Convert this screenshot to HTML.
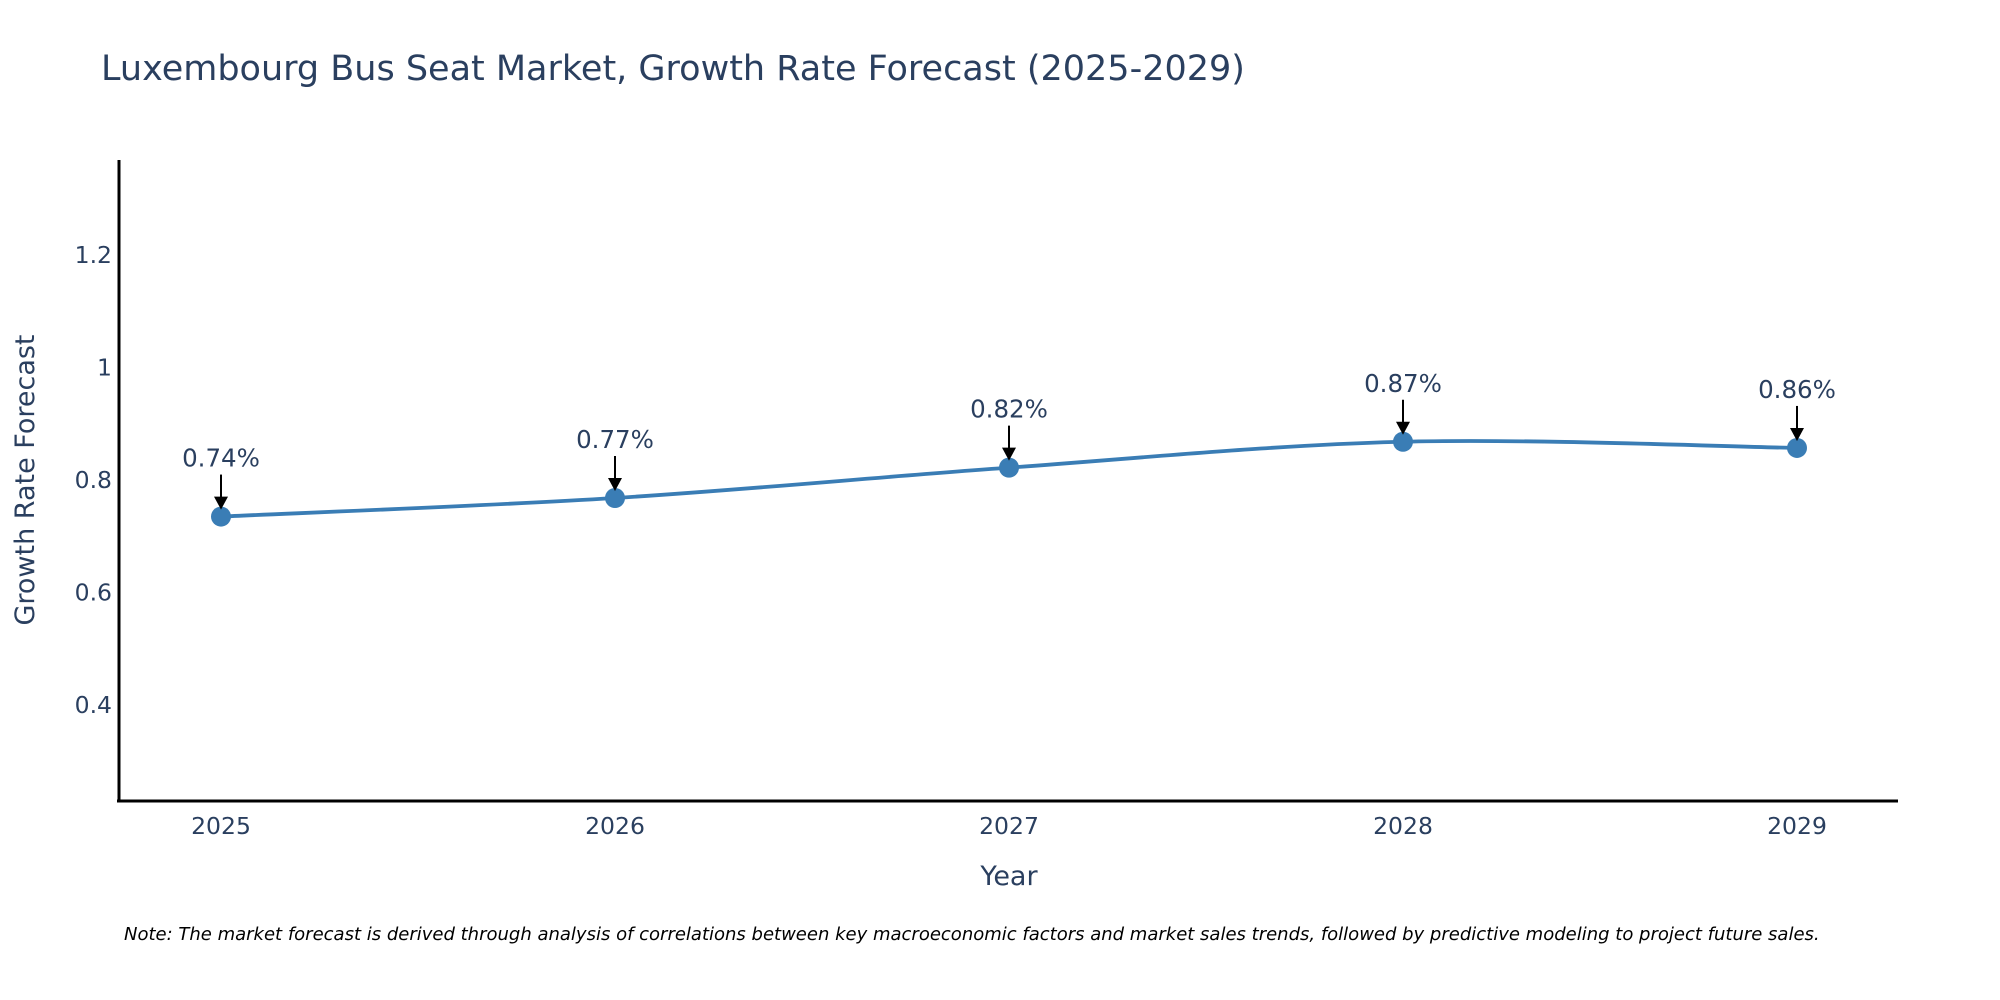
<!DOCTYPE html>
<html><head><meta charset="utf-8"><style>
html,body{margin:0;padding:0;background:#fff;}
svg{display:block;font-family:"DejaVu Sans","Liberation Sans",sans-serif;}
</style></head><body>
<svg id="chart" width="2000" height="1000" viewBox="0 0 2000 1000" xmlns="http://www.w3.org/2000/svg">
<text x="101" y="80" font-size="35" fill="#2a3f5f">Luxembourg Bus Seat Market, Growth Rate Forecast (2025-2029)</text>
<g id="yticks"></g>
<g id="xticks"></g>
<line x1="119" y1="160" x2="119" y2="802" stroke="#000" stroke-width="3"/>
<line x1="117" y1="801" x2="1898" y2="801" stroke="#000" stroke-width="3"/>
<text transform="translate(34,480) rotate(-90)" text-anchor="middle" font-size="27" fill="#2a3f5f">Growth Rate Forecast</text>
<text x="1009" y="885" text-anchor="middle" font-size="27" fill="#2a3f5f">Year</text>
<g id="series"></g>
<g id="annots"></g>
<text x="124" y="940" font-size="18" font-style="italic" fill="#000">Note: The market forecast is derived through analysis of correlations between key macroeconomic factors and market sales trends, followed by predictive modeling to project future sales.</text>
</svg>
<script>
const years = [2025, 2026, 2027, 2028, 2029];
const growthValues = [0.735, 0.768, 0.822, 0.868, 0.857];
const valueLabels = ["0.74%", "0.77%", "0.82%", "0.87%", "0.86%"];
const yTickValues = [0.4, 0.6, 0.8, 1, 1.2];

const NS = "http://www.w3.org/2000/svg";
function xScale(yr){ return 221 + (yr - 2025) * (1797 - 221) / 4; }
function yScale(v){ return 705 - (v - 0.4) * 562.5; }
function mk(tag, attrs){ const e = document.createElementNS(NS, tag); for (const k in attrs) e.setAttribute(k, attrs[k]); return e; }

const yt = document.getElementById('yticks');
yTickValues.forEach(v => {
  const t = mk('text', {x: 112, y: yScale(v) + 8, 'text-anchor': 'end', 'font-size': 23.5, fill: '#2a3f5f'});
  
  
  t.textContent = String(v);
  yt.appendChild(t);
});
const xt = document.getElementById('xticks');
years.forEach(yr => {
  const t = mk('text', {x: xScale(yr), y: 834, 'text-anchor': 'middle', 'font-size': 23.5, fill: '#2a3f5f'});
  
  
  t.textContent = String(yr);
  xt.appendChild(t);
});

const pts = years.map((yr, i) => [xScale(yr), yScale(growthValues[i])]);
let d = 'M' + pts[0][0] + ',' + pts[0][1];
for (let i = 0; i < pts.length - 1; i++) {
  const p0 = pts[i - 1] || pts[i], p1 = pts[i], p2 = pts[i + 1], p3 = pts[i + 2] || pts[i + 1];
  const t = 1 / 6;
  const c1 = [p1[0] + (p2[0] - p0[0]) * t, p1[1] + (p2[1] - p0[1]) * t];
  const c2 = [p2[0] - (p3[0] - p1[0]) * t, p2[1] - (p3[1] - p1[1]) * t];
  d += ' C' + c1 + ' ' + c2 + ' ' + p2;
}
const s = document.getElementById('series');
const line = mk('path', {d: d, fill: 'none', stroke: '#3a7db5', 'stroke-width': 3.8});


s.appendChild(line);
pts.forEach(p => {
  const c = mk('circle', {cx: p[0], cy: p[1], r: 10, fill: '#3a7db5'});
  
  
  s.appendChild(c);
});

const an = document.getElementById('annots');
pts.forEach((p, i) => {
  const tipY = p[1] - 7;
  const l = mk('line', {x1: p[0], y1: tipY - 35, x2: p[0], y2: tipY - 10, stroke: '#000', 'stroke-width': 2});
  
  
  an.appendChild(l);
  const h = mk('path', {d: 'M' + (p[0] - 7) + ',' + (tipY - 13) + ' L' + (p[0] + 7) + ',' + (tipY - 13) + ' L' + p[0] + ',' + tipY + ' Z', fill: '#000'});
  
  
  an.appendChild(h);
  const t = mk('text', {x: p[0], y: tipY - 43, 'text-anchor': 'middle', 'font-size': 24.5, fill: '#2a3f5f'});
  
  
  t.textContent = valueLabels[i];
  an.appendChild(t);
});
</script>
</body></html>
